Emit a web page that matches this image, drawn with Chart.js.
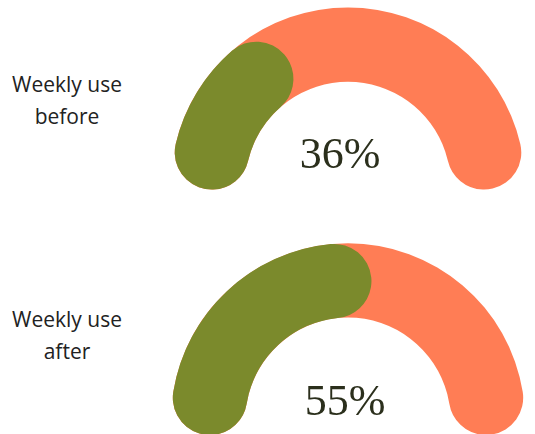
<!DOCTYPE html>
<html>
<head>
<meta charset="utf-8">
<script src="https://cdn.jsdelivr.net/npm/chart.js@4.4.1/dist/chart.umd.min.js"></script>
<style>
    html, body { margin: 0; padding: 0; background: #fff; }
    body { width: 535px; height: 434px; position: relative; overflow: hidden; }
    .gauge { position: absolute; left: 171px; width: 354px; }
    .gauge canvas { position: absolute; left: 0; top: 0; }
    .label {
        position: absolute; left: 0; width: 134px; text-align: center;
        font-family: "Open Sans", sans-serif; font-size: 21px; line-height: 32px; color: #222;
    }
    .pct {
        position: absolute; width: 200px; text-align: center;
        font-family: "Liberation Serif", serif; font-size: 44px; color: #2b2f1c;
    }
</style>
</head>
<body>
<div class="label" style="top:68px">Weekly use<br>before</div>
<div class="label" style="top:303px">Weekly use<br>after</div>

<div class="gauge" style="top:7px; height:184px">
    <canvas id="track-0" width="354" height="184"></canvas>
    <canvas id="fill-0" width="354" height="184"></canvas>
</div>
<div class="gauge" style="top:243px; height:196px">
    <canvas id="track-1" width="354" height="196"></canvas>
    <canvas id="fill-1" width="354" height="196"></canvas>
</div>

<div class="pct" id="pct-0" style="left:240px; top:128px"></div>
<div class="pct" id="pct-1" style="left:245px; top:375px"></div>

<script>
// Data
const gauges = ['Weekly use before', 'Weekly use after'];
const weeklyUse = [36, 55];
const scaleMax = [100, 100];

const fillColor = '#7b8a2c';
const trackColor = '#ff7d55';
// arc sweep of each gauge, degrees
const sweeps = [184, 192];

function gaugeOptions(sweep) {
    return {
        responsive: false,
        animation: false,
        rotation: -sweep / 2,
        circumference: sweep,
        cutout: '58%',
        layout: { padding: 0 },
        plugins: {
            legend: { display: false },
            tooltip: { enabled: false },
        },
        events: [],
    };
}

gauges.forEach((name, i) => {
    // Orange track: full scale
    new Chart(document.getElementById('track-' + i), {
        type: 'doughnut',
        data: {
            labels: [name],
            datasets: [{
                data: [scaleMax[i]],
                backgroundColor: [trackColor],
                borderWidth: 0,
                borderRadius: 40,
            }],
        },
        options: gaugeOptions(sweeps[i]),
    });

    // Green fill on top with rounded ends
    new Chart(document.getElementById('fill-' + i), {
        type: 'doughnut',
        data: {
            labels: [name, 'rest'],
            datasets: [{
                data: [weeklyUse[i], scaleMax[i] - weeklyUse[i]],
                backgroundColor: [fillColor, 'rgba(0,0,0,0)'],
                borderWidth: 0,
                borderRadius: [40, 0],
            }],
        },
        options: gaugeOptions(sweeps[i]),
    });

    document.getElementById('pct-' + i).textContent = weeklyUse[i] + '%';
});
</script>
</body>
</html>
